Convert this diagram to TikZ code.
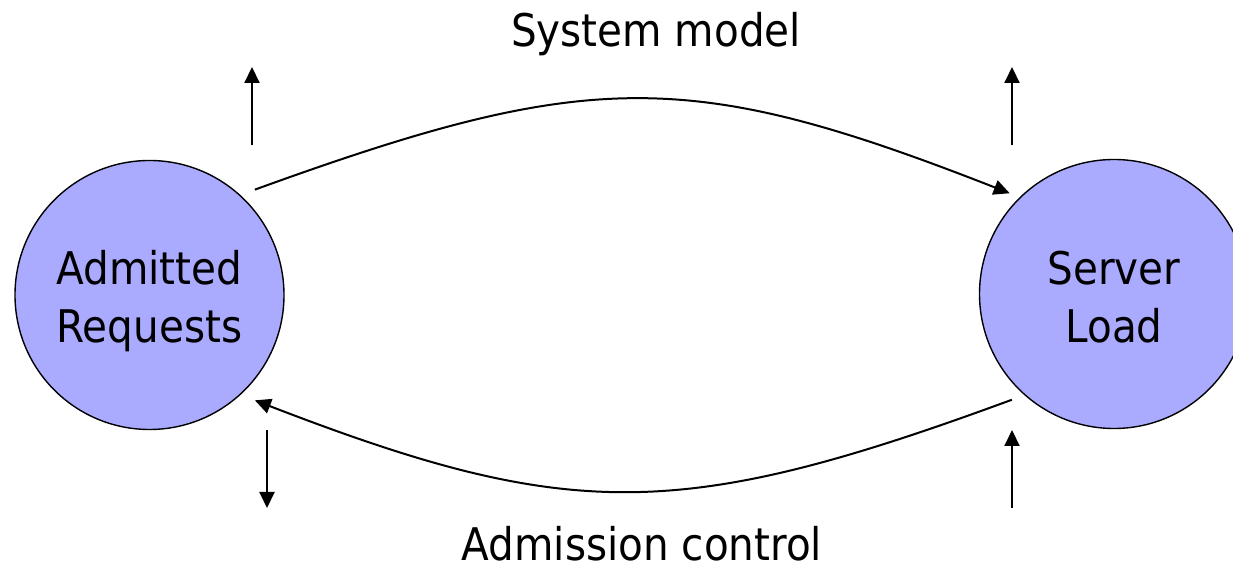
\documentclass[tikz,border=0pt]{standalone}
\usepackage{fontspec}
\setmainfont{DejaVu Sans Condensed}
\usetikzlibrary{arrows.meta,calc}
\definecolor{statefill}{RGB}{170,170,255}
\tikzset{
  state/.style={circle, draw=black, line width=1.4pt, fill=statefill,
    minimum size=269pt, inner sep=0pt},
  lbl/.style={font=\fontsize{45}{58}\selectfont, inner sep=0pt, anchor=base},
  flow/.style={line width=2pt, -{Triangle[length=16pt,width=15pt]}},
}
\begin{document}
\begin{tikzpicture}[x=1pt,y=1pt]
  \useasboundingbox (0,0) rectangle (1233,569);

  % the two states
  \node[state] (A) at (149.5,274) {};
  \node[state] (S) at (1114,275) {};
  \node[lbl] (At) at (149.5,284) {Admitted};
  \node[lbl] (Ab) at (149.5,226) {Requests};
  \node[lbl] (St) at (1114,284) {Server};
  \node[lbl] (Sb) at (1114,226) {Load};

  % titles of the two loops
  \node[lbl] (top) at (656,522) {System model};
  \node[lbl] (bot) at (642,8) {Admission control};

  % system model: requests drive the load
  \draw[flow] ($(A.center)+(45:149)$) .. controls (590,501) and (690,501) ..
    ($(S.center)+(136:145)$);
  % admission control: load feeds back to the requests
  \draw[flow] ($(S.center)+(226:147)$) .. controls (680,47) and (570,47) ..
    ($(A.center)+(-45:149)$);

  % short input/output arrows
  \coordinate (a1) at (252,424); \coordinate (a2) at (252,502);
  \coordinate (b1) at (1012,424); \coordinate (b2) at (1012,502);
  \coordinate (c1) at (267,139); \coordinate (c2) at (267,61);
  \coordinate (d1) at (1012,61); \coordinate (d2) at (1012,139);
  \draw[flow] (a1) -- (a2);
  \draw[flow] (b1) -- (b2);
  \draw[flow] (c1) -- (c2);
  \draw[flow] (d1) -- (d2);
\end{tikzpicture}
\end{document}
